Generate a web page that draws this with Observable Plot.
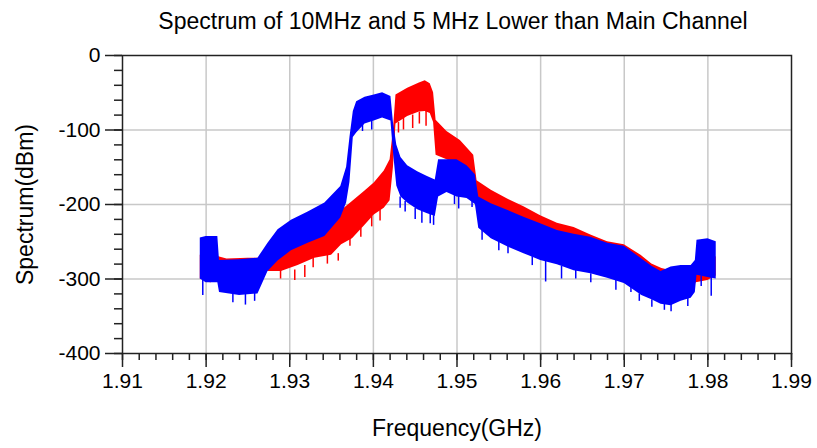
<!DOCTYPE html>
<html>
<head>
<meta charset="utf-8">
<script src="https://cdn.jsdelivr.net/npm/d3@7"></script>
<script src="https://cdn.jsdelivr.net/npm/@observablehq/plot@0.6"></script>
<style>
  html, body { margin: 0; padding: 0; background: #fff; }
</style>
</head>
<body>
<div id="chart"></div>
<script>
const title = "Spectrum of 10MHz and 5 MHz Lower than Main Channel";
const xLabel = "Frequency(GHz)";
const yLabel = "Spectrum(dBm)";

const xTicks = [1.91, 1.92, 1.93, 1.94, 1.95, 1.96, 1.97, 1.98, 1.99];
const yTicks = [-400, -300, -200, -100, 0];

// Red trace envelope (frequency GHz, upper dBm, lower dBm)
const redFreq = [1.9193, 1.9215, 1.9225, 1.9250, 1.9265, 1.9275, 1.9290, 1.9310, 1.9330, 1.9350,
  1.9362, 1.9375, 1.9390, 1.9401, 1.9413, 1.9420, 1.9424, 1.9427, 1.9441, 1.9455,
  1.9462, 1.9468, 1.9472, 1.9475, 1.9488, 1.9504, 1.9520, 1.9524, 1.9541, 1.9561,
  1.9580, 1.9600, 1.9620, 1.9640, 1.9660, 1.9680, 1.9700, 1.9720, 1.9733, 1.9745,
  1.9760, 1.9780, 1.9786, 1.9800, 1.9810];
const redHi = [-268, -270, -273, -272, -272, -266, -258, -248, -238, -225,
  -208, -196, -182, -171, -155, -140, -100, -53, -44, -37,
  -34, -38, -50, -87, -102, -114, -134, -168, -181, -193,
  -203, -215, -225, -231, -241, -250, -254, -268, -280, -286,
  -290, -287, -278, -274, -270];
const redLo = [-300, -298, -292, -290, -288, -290, -290, -282, -272, -268,
  -254, -246, -228, -214, -205, -195, -150, -92, -82, -76,
  -75, -78, -90, -134, -140, -150, -165, -200, -215, -228,
  -238, -250, -260, -266, -276, -286, -292, -304, -312, -318,
  -322, -318, -305, -302, -296];

// Blue trace envelope
const blueFreq = [1.9193, 1.9200, 1.9214, 1.9216, 1.9240, 1.9262, 1.9268, 1.9274, 1.9286, 1.9302,
  1.9322, 1.9342, 1.9361, 1.9368, 1.9372, 1.9376, 1.9380, 1.9390, 1.9401, 1.9411,
  1.9421, 1.9424, 1.9428, 1.9433, 1.9441, 1.9453, 1.9464, 1.9474, 1.9478, 1.9488,
  1.9500, 1.9512, 1.9522, 1.9526, 1.9541, 1.9561, 1.9580, 1.9600, 1.9620, 1.9640,
  1.9660, 1.9680, 1.9700, 1.9721, 1.9733, 1.9744, 1.9756, 1.9768, 1.9780, 1.9785,
  1.9787, 1.9800, 1.9810];
const blueHi = [-245, -243, -243, -275, -274, -272, -262, -252, -234, -221,
  -210, -198, -176, -150, -110, -75, -62, -56, -53, -50,
  -55, -90, -120, -137, -148, -156, -162, -167, -140, -140,
  -140, -148, -160, -190, -199, -208, -217, -226, -235, -240,
  -244, -252, -256, -273, -283, -290, -284, -282, -282, -275,
  -248, -246, -250];
const blueLo = [-300, -305, -305, -318, -322, -320, -305, -290, -276, -262,
  -252, -243, -218, -198, -170, -110, -104, -92, -88, -84,
  -88, -130, -175, -190, -198, -207, -212, -216, -190, -184,
  -190, -192, -200, -232, -246, -257, -266, -275, -281, -289,
  -293, -299, -306, -322, -328, -334, -336, -330, -326, -318,
  -295, -298, -300];

// Noise spikes (frequency, top dBm, bottom dBm)
const redSpikeFreq = [1.9205, 1.9289, 1.9306, 1.9318, 1.9328, 1.9345, 1.9358, 1.9372, 1.9385, 1.9398,
  1.9408, 1.9430, 1.9436, 1.9447, 1.9455, 1.9463, 1.9536, 1.9604, 1.9650, 1.9720, 1.9745];
const redSpikeTop = [-295, -288, -288, -282, -272, -268, -266, -246, -232, -216,
  -207, -90, -84, -80, -76, -75, -212, -248, -270, -302, -316];
const redSpikeBot = [-305, -300, -302, -298, -285, -280, -276, -256, -244, -230,
  -222, -104, -100, -98, -92, -95, -240, -272, -285, -312, -326];

const blueSpikeFreq = [1.9196, 1.9232, 1.9247, 1.9258, 1.9387, 1.9398, 1.9432, 1.9438, 1.9450, 1.9458,
  1.9468, 1.9472, 1.9497, 1.9502, 1.9518, 1.9530, 1.9550, 1.9561, 1.9590, 1.9606,
  1.9625, 1.9642, 1.9660, 1.9690, 1.9708, 1.9718, 1.9733, 1.9748, 1.9756, 1.9776,
  1.9792, 1.9804];
const blueSpikeTop = [-300, -320, -320, -318, -92, -88, -190, -196, -205, -208,
  -210, -215, -188, -188, -192, -232, -250, -255, -270, -274,
  -283, -288, -293, -302, -306, -320, -328, -332, -334, -326,
  -296, -298];
const blueSpikeBot = [-322, -332, -335, -330, -102, -100, -205, -210, -220, -225,
  -226, -228, -200, -206, -204, -248, -262, -266, -282, -304,
  -300, -300, -305, -315, -318, -330, -338, -342, -344, -337,
  -310, -323];

const red = redFreq.map((f, i) => ({f, hi: redHi[i], lo: redLo[i]}));
const blue = blueFreq.map((f, i) => ({f, hi: blueHi[i], lo: blueLo[i]}));
const redSpikes = redSpikeFreq.map((f, i) => ({f, t: redSpikeTop[i], b: redSpikeBot[i]}));
const blueSpikes = blueSpikeFreq.map((f, i) => ({f, t: blueSpikeTop[i], b: blueSpikeBot[i]}));

const xMinor = d3.range(0, 41).map(i => 1.91 + i * 0.002);
const yMinor = d3.range(0, 21).map(i => -400 + i * 20);

const gridColor = "#c8c8c8";
const axisColor = "#222";
const font = "'Liberation Sans', Arial, sans-serif";

const chart = Plot.plot({
  width: 817,
  height: 448,
  marginLeft: 122,
  marginRight: 26,
  marginTop: 55,
  marginBottom: 95,
  style: {fontFamily: font, background: "#fff", color: "#000"},
  x: {domain: [1.91, 1.99]},
  y: {domain: [-400, 0]},
  marks: [
    Plot.ruleX(xTicks.slice(1, -1), {stroke: gridColor, strokeWidth: 1.5}),
    Plot.ruleY(yTicks.slice(1, -1), {stroke: gridColor, strokeWidth: 1.5}),
    Plot.areaY(red, {x: "f", y1: "lo", y2: "hi", fill: "#ff0000"}),
    Plot.ruleX(redSpikes, {x: "f", y1: "t", y2: "b", stroke: "#ff0000", strokeWidth: 1.5}),
    Plot.areaY(blue, {x: "f", y1: "lo", y2: "hi", fill: "#0000ff"}),
    Plot.ruleX(blueSpikes, {x: "f", y1: "t", y2: "b", stroke: "#0000ff", strokeWidth: 1.5}),
    Plot.frame({stroke: axisColor, strokeWidth: 1.5}),
    Plot.axisX({ticks: xMinor, tickSize: 7, tickFormat: () => "", stroke: axisColor, strokeWidth: 1.5, label: null}),
    Plot.axisX({ticks: xTicks, tickSize: 14, tickPadding: 6, tickFormat: d3.format(".2f"), fontSize: 21, stroke: axisColor, strokeWidth: 1.5, fill: "#000", label: null}),
    Plot.axisY({ticks: yMinor, tickSize: 8, tickFormat: () => "", stroke: axisColor, strokeWidth: 1.5, label: null}),
    Plot.axisY({ticks: yTicks, tickSize: 17, tickPadding: 5, tickFormat: d => String(d), fontSize: 21, stroke: axisColor, strokeWidth: 1.5, fill: "#000", label: null}),
    Plot.text([title], {frameAnchor: "top", dy: -43, dx: -4, fontSize: 23, fill: "#000"}),
    Plot.text([xLabel], {frameAnchor: "bottom", dy: 82, fontSize: 23, fill: "#000"}),
    Plot.text([yLabel], {frameAnchor: "left", textAnchor: "middle", dx: -97, rotate: -90, fontSize: 23, fill: "#000"})
  ]
});

document.getElementById("chart").appendChild(chart);
</script>
</body>
</html>
